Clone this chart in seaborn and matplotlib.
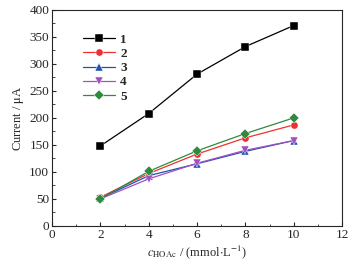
import numpy as np
import pandas as pd
import seaborn as sns
import matplotlib.pyplot as plt
from matplotlib.ticker import MultipleLocator

# Дані
conc = [2, 4, 6, 8, 10]
series_names = ['1', '2', '3', '4', '5']
current_1 = [148, 208, 281, 332, 371]
current_2 = [53, 97, 133, 163, 187]
current_3 = [51, 93, 115, 138, 158]
current_4 = [50, 87, 116, 140, 158]
current_5 = [50, 101, 139, 171, 200]

df = pd.DataFrame({
    'c': conc * 5,
    'current': current_1 + current_2 + current_3 + current_4 + current_5,
    'series': np.repeat(series_names, len(conc)),
})

sns.set_style('ticks')
plt.rcParams['font.family'] = ['Liberation Serif', 'DejaVu Serif']
plt.rcParams['mathtext.fontset'] = 'stix'

colors = ['#000000', '#f03030', '#2050b0', '#a050c0', '#2e8b3e']
markers = ['s', 'o', '^', 'v', 'D']

fig = plt.figure(figsize=(3.56, 2.67), dpi=100)
ax = fig.add_axes([0.146, 0.154, 0.815, 0.809])

sns.lineplot(data=df, x='c', y='current', hue='series', style='series',
             palette=colors, markers=markers, dashes=False, markersize=5.2,
             markeredgewidth=0.3, linewidth=0.9, ax=ax)

ax.set_xlim(0, 12)
ax.set_ylim(0, 400)
ax.xaxis.set_major_locator(MultipleLocator(2))
ax.xaxis.set_minor_locator(MultipleLocator(1))
ax.yaxis.set_major_locator(MultipleLocator(50))
ax.yaxis.set_minor_locator(MultipleLocator(25))
ax.tick_params(which='both', direction='in', labelsize=9.5, pad=2)
ax.tick_params(which='major', length=3)
ax.tick_params(which='minor', length=1.8)
for s in ax.spines.values():
    s.set_linewidth(0.8)

ax.set_xlabel(r'$c_{\mathrm{HOAc}}$ / (mmol$\cdot$L$^{-1}$)', fontsize=9, labelpad=2)
ax.set_ylabel(r'Current / $\mathrm{\mu}$A', fontsize=9, labelpad=2)

leg = ax.legend(loc='upper left', bbox_to_anchor=(0.09, 0.915), frameon=False,
                fontsize=9.5, handlelength=2.4, labelspacing=0.15,
                handletextpad=0.4, borderaxespad=0)
for t in leg.get_texts():
    t.set_fontweight('bold')

plt.savefig('out.png', dpi=100)
